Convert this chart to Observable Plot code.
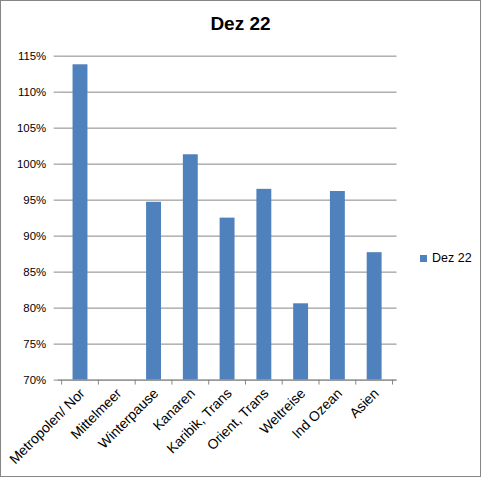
<!DOCTYPE html>
<html>
<head>
<meta charset="utf-8">
<script src="https://cdn.jsdelivr.net/npm/d3@7"></script>
<script src="https://cdn.jsdelivr.net/npm/@observablehq/plot@0.6"></script>
<style>
  html, body { margin: 0; padding: 0; background: #fff; }
  #chart { position: relative; width: 481px; height: 477px; box-sizing: border-box; border: 1px solid #868686; overflow: hidden; font-family: "Liberation Sans", Arial, sans-serif; }
  #chart svg { position: absolute; left: -1px; top: -1px; }
  #title { position: absolute; left: 0; width: 479px; top: 12px; text-align: center; font-weight: bold; font-size: 19px; font-family: "Liberation Sans", Arial, sans-serif; color: #000; }
  #legend { position: absolute; left: 419px; top: 250px; font-size: 12.5px; display: flex; align-items: center; color: #000; }
  #legend .sw { width: 7px; height: 7px; background: #4F81BD; margin-right: 5px; }
</style>
</head>
<body>
<div id="chart">
  <div id="title"></div>
  <div id="legend"><span class="sw"></span><span id="legtext"></span></div>
</div>
<script>
const title = "Dez 22";
const seriesName = "Dez 22";
const categories = ["Metropolen/ Nor", "Mittelmeer", "Winterpause", "Kanaren", "Karibik, Trans", "Orient, Trans", "Weltreise", "Ind Ozean", "Asien"];
const values = [1.138, null, 0.947, 1.013, 0.925, 0.965, 0.806, 0.962, 0.877];
const yTicks = [0.70, 0.75, 0.80, 0.85, 0.90, 0.95, 1.00, 1.05, 1.10, 1.15];

document.getElementById("title").textContent = title;
document.getElementById("legtext").textContent = seriesName;

const data = categories.map((c, i) => ({cat: c, v: values[i]})).filter(d => d.v != null);
const yMin = yTicks[0];

const boundaryTicks = (index, scales, values, dims, context) => {
  const x = scales.x;
  const bw = x.bandwidth();
  const step = x(categories[1]) - x(categories[0]);
  const gap = (step - bw) / 2;
  const xs = categories.map(c => x(c) - gap);
  xs.push(x(categories[categories.length - 1]) + bw + gap);
  const y0 = dims.height - dims.marginBottom;
  const g = d3.create("svg:g");
  g.selectAll("line").data(xs).join("line")
    .attr("x1", d => d).attr("x2", d => d)
    .attr("y1", y0).attr("y2", y0 + 5)
    .attr("stroke", "#868686");
  return g.node();
};

const plot = Plot.plot({
  width: 482,
  height: 477,
  marginLeft: 58,
  marginRight: 83,
  marginTop: 56,
  marginBottom: 95,
  style: {fontFamily: "Liberation Sans, Arial, sans-serif", fontSize: "11.5px", color: "#000", background: "transparent"},
  x: {domain: categories, paddingInner: 0.6, paddingOuter: 0.3, label: null},
  y: {domain: [yTicks[0], yTicks[yTicks.length - 1]], label: null},
  marks: [
    Plot.gridY(yTicks, {stroke: "#868686", strokeOpacity: 1}),
    Plot.barY(data, {x: "cat", y1: yMin, y2: "v", fill: "#4F81BD"}),
    Plot.ruleX([0], {frameAnchor: "left", stroke: "#868686"}),
    Plot.axisY(yTicks, {tickFormat: d3.format(".0%"), tickSize: 4, tickPadding: 8, stroke: "#868686", fill: "#000", label: null}),
    Plot.ruleY([yMin], {stroke: "#868686"}),
    boundaryTicks,
    Plot.axisX({tickSize: 0, tickRotate: -45, tickPadding: 11, dx: 2, fill: "#000", label: null, fontSize: 14})
  ]
});
document.getElementById("chart").appendChild(plot);
</script>
</body>
</html>
